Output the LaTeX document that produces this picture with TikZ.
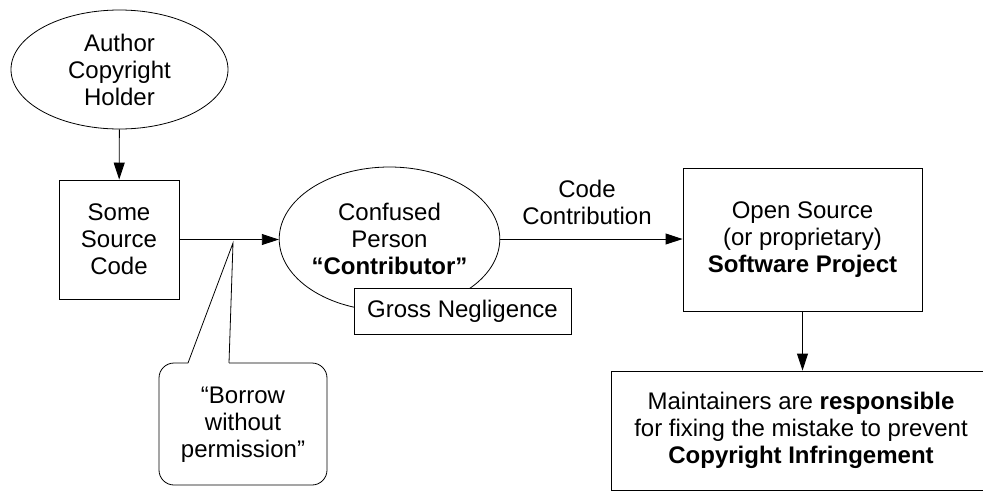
\documentclass[tikz,border=0pt]{standalone}
\usepackage{fontspec}
\setmainfont{Liberation Sans}
\usetikzlibrary{shapes.geometric,arrows.meta}
\tikzset{
  every node/.style={font=\fontsize{24}{27}\selectfont, align=center, inner sep=0pt},
  oval/.style={ellipse, draw, line width=0.8pt},
  box/.style={rectangle, draw, line width=0.9pt, fill=white},
  arr/.style={line width=0.9pt, -{Triangle[length=17pt,width=11pt]}},
  thin line/.style={line width=0.8pt}
}
\begin{document}
\begin{tikzpicture}[x=1pt,y=-1pt]
\useasboundingbox (0,0) rectangle (983,491);
% nodes
\node[oval, minimum width=217, minimum height=119] (author) at (119.5,69.5) {Author\\Copyright\\Holder};
\node[box, minimum width=120, minimum height=119] (src) at (119,239.5) {Some\\Source\\Code};
\node[oval, minimum width=217, minimum height=144] (person) at (389.5,239) {Confused\\Person\\\textbf{“Contributor”}};
\node[box, minimum width=217, minimum height=46] (gross) at (462.5,311) {Gross Negligence};
\node[box, minimum width=239, minimum height=143] (proj) at (802.5,239.5) {Open Source\\(or proprietary)\\\textbf{Software Project}};
\node[box, minimum width=380, minimum height=119] (maint) at (801,430.5) {Maintainers are \textbf{responsible}\\for fixing the mistake to prevent\\\textbf{Copyright Infringement}};
\node (cc) at (587,202.5) {Code\\Contribution};
% callout
\node (borrow) at (243,425) {“Borrow\\without\\permission”};
\coordinate (tip) at (233,243);
\coordinate (bl) at (188,363);
\coordinate (br) at (229,363);
\draw[thin line, rounded corners=15] (bl) -- (159,363) -- (159,485) -- (327,485) -- (327,363) -- (br);
\draw[thin line] (bl) -- (tip) -- (br);
% connectors
\draw[arr] (author) -- (src);
\draw[arr] (src.east) -- (src.east -| person.west);
\draw[arr] (person.east) -- (person.east -| proj.west);
\draw[arr] (proj.south) -- (proj.south |- maint.north);
\end{tikzpicture}
\end{document}
